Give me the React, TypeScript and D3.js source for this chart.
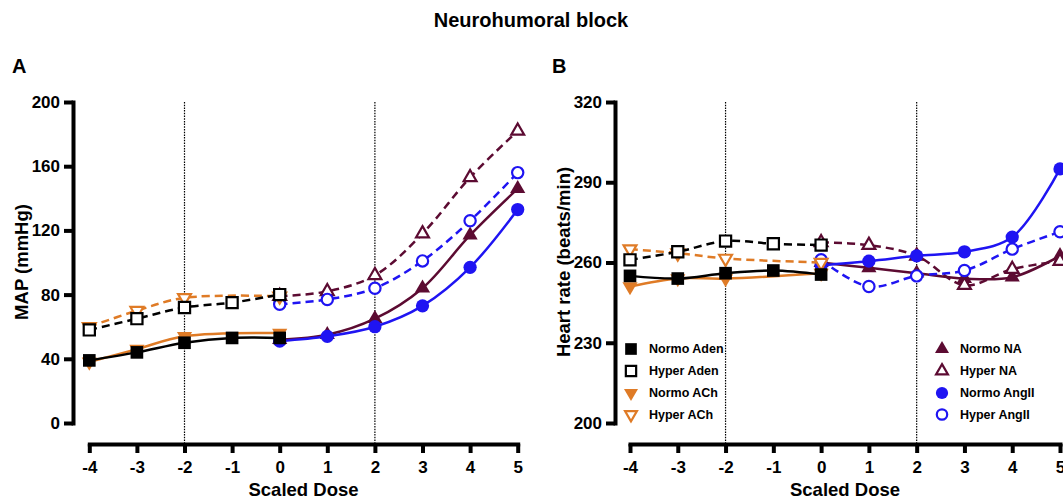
import React, { useRef, useEffect } from 'react';
import * as d3 from 'd3';

const FONT = "'Liberation Sans', Arial, Helvetica, sans-serif";

// scaled dose on x
const doseTicks = [-4, -3, -2, -1, 0, 1, 2, 3, 4, 5];
const adenDoses = [-4, -3, -2, -1, 0];
const achDoses = [-4, -3, -2, 0];
const naDoses = [0, 1, 2, 3, 4, 5];
const angDoses = [0, 1, 2, 3, 4, 5];

// panel A: MAP (mmHg)
const mapTicks = [0, 40, 80, 120, 160, 200];
const mapNormoAden = [39, 44, 50, 53, 53];
const mapHyperAden = [58, 65, 72, 75, 80];
const mapNormoACh = [38, 46, 54, 56];
const mapHyperACh = [60, 70, 78, 79];
const mapNormoNA = [52, 55, 65, 84, 117, 146];
const mapHyperNA = [79, 82, 92, 118, 153, 182];
const mapNormoAngII = [51, 54, 60, 73, 97, 133];
const mapHyperAngII = [74, 77, 84, 101, 126, 156];

// panel B: heart rate (beats/min)
const hrTicks = [200, 230, 260, 290, 320];
const hrNormoAden = [255, 254, 256, 257, 255.5];
const hrHyperAden = [261, 264, 268, 267, 266.5];
const hrNormoACh = [251, 254, 254, 256];
const hrHyperACh = [265, 263.5, 261.5, 260];
const hrNormoNA = [260, 258, 256, 254, 254.5, 262.5];
const hrHyperNA = [267.5, 266.5, 262.5, 251.5, 257.5, 260.5];
const hrNormoAngII = [259, 260.5, 262.5, 264, 269.5, 295];
const hrHyperAngII = [261, 251, 255, 257, 265, 271.5];

const BLACK = '#000000';
const ORANGE = '#df7b26';
const MAROON = '#5c0b32';
const BLUE = '#1f14f2';

const series = [
    { label: 'Normo NA', x: naDoses, map: mapNormoNA, hr: hrNormoNA, color: MAROON, shape: 'up', open: false },
    { label: 'Hyper NA', x: naDoses, map: mapHyperNA, hr: hrHyperNA, color: MAROON, shape: 'up', open: true },
    { label: 'Normo AngII', x: angDoses, map: mapNormoAngII, hr: hrNormoAngII, color: BLUE, shape: 'circle', open: false },
    { label: 'Hyper AngII', x: angDoses, map: mapHyperAngII, hr: hrHyperAngII, color: BLUE, shape: 'circle', open: true },
    { label: 'Normo ACh', x: achDoses, map: mapNormoACh, hr: hrNormoACh, color: ORANGE, shape: 'down', open: false },
    { label: 'Hyper ACh', x: achDoses, map: mapHyperACh, hr: hrHyperACh, color: ORANGE, shape: 'down', open: true },
    { label: 'Normo Aden', x: adenDoses, map: mapNormoAden, hr: hrNormoAden, color: BLACK, shape: 'square', open: false },
    { label: 'Hyper Aden', x: adenDoses, map: mapHyperAden, hr: hrHyperAden, color: BLACK, shape: 'square', open: true },
];

const legendLeft = ['Normo Aden', 'Hyper Aden', 'Normo ACh', 'Hyper ACh'];
const legendRight = ['Normo NA', 'Hyper NA', 'Normo AngII', 'Hyper AngII'];

const symbolPath = (shape: string, open: boolean, small = false) => {
    const k = small ? 0.85 : 1;
    if (shape === 'square') return d3.symbol().type(d3.symbolSquare).size((open ? 125 : 160) * k)();
    if (shape === 'circle') return d3.symbol().type(d3.symbolCircle).size((open ? 100 : 138) * k)();
    return d3.symbol().type(d3.symbolTriangle).size((open ? 72 : 100) * k)();
};

const addMarker = (g: any, s: any, cx: number, cy: number, small = false) => {
    g.append('path')
        .attr('d', symbolPath(s.shape, s.open, small))
        .attr('transform', `translate(${cx},${cy})${s.shape === 'down' ? ' rotate(180)' : ''}`)
        .attr('fill', s.open ? '#fff' : s.color)
        .attr('stroke', s.open ? s.color : 'none')
        .attr('stroke-width', 2.2);
};

const panels = [
    { key: 'map', letter: 'A', letterX: 12, xRange: [89.3, 517.7], yDomain: [0, 200], yTicks: mapTicks, yAxisX: 73, yLabel: 'MAP (mmHg)', yLabelX: 21 },
    { key: 'hr', letter: 'B', letterX: 552, xRange: [630, 1060], yDomain: [200, 320], yTicks: hrTicks, yAxisX: 615, yLabel: 'Heart rate (beats/min)', yLabelX: 563 },
];

const App = () => {
    const ref = useRef<SVGSVGElement>(null);

    useEffect(() => {
        const svg = d3.select(ref.current);
        svg.selectAll('*').remove();

        svg.append('text')
            .attr('x', 531).attr('y', 27)
            .attr('text-anchor', 'middle')
            .attr('font-family', FONT).attr('font-weight', 'bold').attr('font-size', 20)
            .text('Neurohumoral block');

        panels.forEach(p => {
            const x = d3.scaleLinear().domain([-4, 5]).range(p.xRange);
            const y = d3.scaleLinear().domain(p.yDomain).range([423, 102]);

            svg.append('text')
                .attr('x', p.letterX).attr('y', 73)
                .attr('font-family', FONT).attr('font-weight', 'bold').attr('font-size', 20)
                .text(p.letter);

            // dotted guides at -2 and 2
            [-2, 2].forEach(d => {
                svg.append('line')
                    .attr('x1', x(d)).attr('x2', x(d))
                    .attr('y1', 102).attr('y2', 443)
                    .attr('stroke', '#000').attr('stroke-width', 1.2)
                    .attr('stroke-dasharray', '1.5,1.2');
            });

            const ya = svg.append('g')
                .attr('transform', `translate(${p.yAxisX},0)`)
                .call(d3.axisLeft(y).tickValues(p.yTicks).tickSize(9).tickSizeOuter(0).tickPadding(4).tickFormat(d => String(d)));
            ya.attr('font-family', FONT).attr('font-size', 17).attr('font-weight', 'bold');
            ya.select('.domain').attr('stroke-width', 4).attr('stroke-linecap', 'square');
            ya.selectAll('.tick line').attr('stroke-width', 4);
            ya.selectAll('.tick text').attr('fill', '#000');

            const xa = svg.append('g')
                .attr('transform', 'translate(0,444)')
                .call(d3.axisBottom(x).tickValues(doseTicks).tickSize(9).tickSizeOuter(0).tickPadding(8).tickFormat(d => String(d)));
            xa.attr('font-family', FONT).attr('font-size', 17).attr('font-weight', 'bold');
            xa.select('.domain').attr('stroke-width', 4).attr('stroke-linecap', 'square');
            xa.selectAll('.tick line').attr('stroke-width', 4);
            xa.selectAll('.tick text').attr('fill', '#000');

            svg.append('text')
                .attr('x', (p.xRange[0] + p.xRange[1]) / 2).attr('y', 496)
                .attr('text-anchor', 'middle')
                .attr('font-family', FONT).attr('font-weight', 'bold').attr('font-size', 18.5)
                .text('Scaled Dose');

            svg.append('text')
                .attr('transform', `translate(${p.yLabelX},262) rotate(-90)`)
                .attr('text-anchor', 'middle').attr('dominant-baseline', 'central')
                .attr('font-family', FONT).attr('font-weight', 'bold').attr('font-size', 18.5)
                .text(p.yLabel);

            const line = d3.line<number[]>().x(d => d[0]).y(d => d[1]).curve(d3.curveCatmullRom.alpha(0.5));
            const g = svg.append('g');
            series.forEach(s => {
                const vals = s[p.key as 'map' | 'hr'];
                const pts = s.x.map((d, i) => [x(d), y(vals[i])]);
                g.append('path')
                    .attr('d', line(pts))
                    .attr('fill', 'none')
                    .attr('stroke', s.color)
                    .attr('stroke-width', 2.5)
                    .attr('stroke-dasharray', s.open ? '8,5' : null);
                pts.forEach(pt => addMarker(g, s, pt[0], pt[1]));
            });

            if (p.key === 'hr') {
                const rows = [349, 371, 393, 414.5];
                const lg = svg.append('g');
                [[legendLeft, 631, 649], [legendRight, 942, 960]].forEach(([names, mx, tx]: any) => {
                    names.forEach((name: string, i: number) => {
                        const s = series.find(d => d.label === name);
                        addMarker(lg, s, mx, rows[i], true);
                        lg.append('text')
                            .attr('x', tx).attr('y', rows[i])
                            .attr('dominant-baseline', 'central')
                            .attr('font-family', FONT).attr('font-weight', 'bold').attr('font-size', 12.5)
                            .text(name);
                    });
                });
            }
        });
    }, []);

    return (
        <svg ref={ref} width={1063} height={500}
            style={{ position: 'absolute', left: 0, top: 0, display: 'block', background: '#fff' }} />
    );
};

export default App;
